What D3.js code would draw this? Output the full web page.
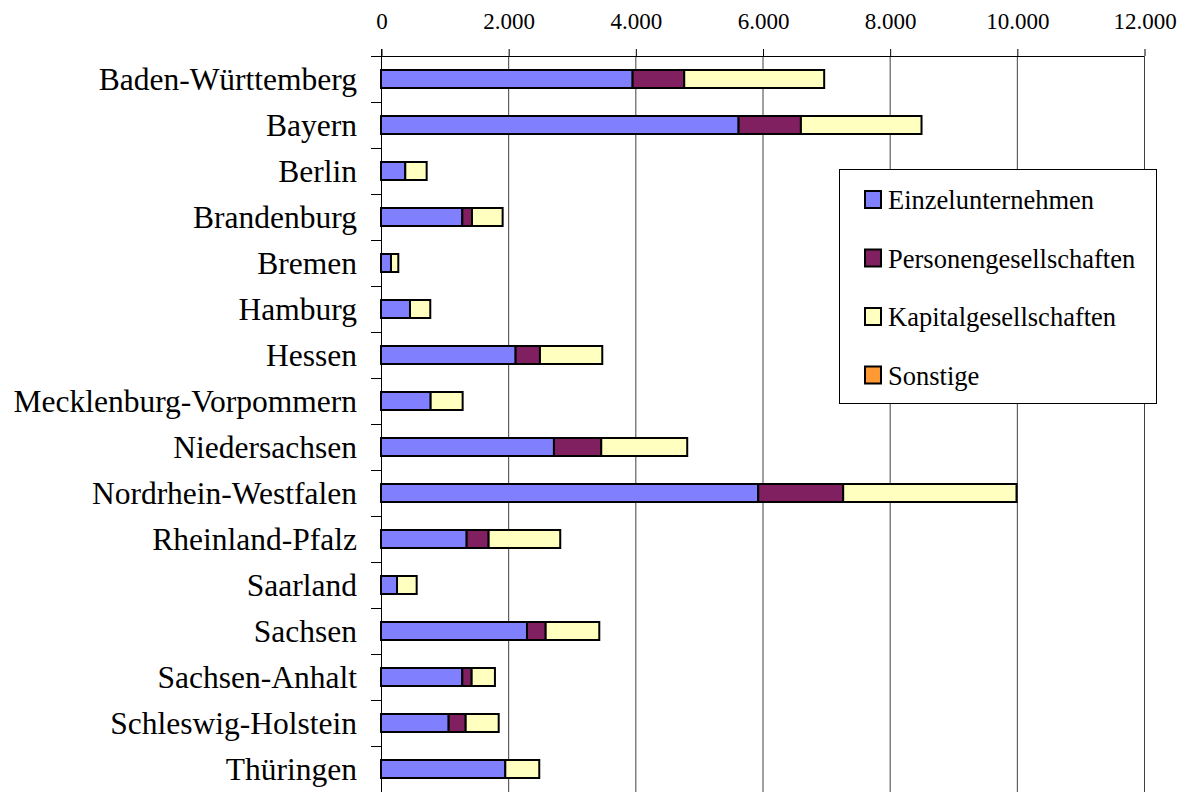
<!DOCTYPE html>
<html>
<head>
<meta charset="UTF-8">
<title>Unternehmen nach Rechtsform und Bundesland</title>
<script src="https://d3js.org/d3.v7.min.js"></script>
<style>
  body { margin: 0; background: #fff; }
  svg text { font-family: "Liberation Serif", "Times New Roman", serif; fill: #000; }
</style>
</head>
<body>
<svg width="1185" height="792"></svg>
<script>
// data
const laender = [
  "Baden-Württemberg", "Bayern", "Berlin", "Brandenburg", "Bremen", "Hamburg",
  "Hessen", "Mecklenburg-Vorpommern", "Niedersachsen", "Nordrhein-Westfalen",
  "Rheinland-Pfalz", "Saarland", "Sachsen", "Sachsen-Anhalt",
  "Schleswig-Holstein", "Thüringen"
];
const seriesNames = ["Einzelunternehmen", "Personengesellschaften", "Kapitalgesellschaften", "Sonstige"];
const einzel   = [3957, 5624, 382, 1279, 157, 456, 2117, 781, 2720, 5933, 1347, 252, 2296, 1279, 1064, 1955];
const personen = [812, 980, 0, 152, 0, 0, 383, 0, 744, 1336, 346, 0, 294, 147, 268, 0];
const kapital  = [2201, 1897, 336, 482, 115, 319, 980, 503, 1352, 2726, 1126, 309, 843, 366, 519, 534];
const sonstige = [0, 0, 0, 0, 0, 0, 0, 0, 0, 0, 0, 0, 0, 0, 0, 0];
const xTicks = [0, 2000, 4000, 6000, 8000, 10000, 12000];
const colors = ["#8080ff", "#802060", "#ffffc0", "#ff9933"];

const svg = d3.select("svg");
const plotLeft = 381, plotRight = 1144, plotTop = 56, plotBottom = 792;

const rows = laender.map((name, i) => ({
  name: name,
  Einzelunternehmen: einzel[i],
  Personengesellschaften: personen[i],
  Kapitalgesellschaften: kapital[i],
  Sonstige: sonstige[i]
}));

const x = d3.scaleLinear().domain([0, 12000]).range([plotLeft, plotRight]);
const y = d3.scaleBand().domain(laender).range([plotTop, plotBottom]).padding(0);
const barH = 18;

const fmt = d3.formatLocale({ decimal: ",", thousands: ".", grouping: [3], currency: ["", " €"] }).format(",d");

// vertical gridlines
svg.append("g")
  .selectAll("line")
  .data(xTicks.slice(1))
  .join("line")
  .attr("x1", d => x(d) + 0.5).attr("x2", d => x(d) + 0.5)
  .attr("y1", plotTop).attr("y2", plotBottom)
  .attr("stroke", "#404040")
  .attr("stroke-width", 1);

// top axis
const xAxis = svg.append("g")
  .attr("transform", `translate(0.5,${plotTop})`)
  .call(d3.axisTop(x).tickValues(xTicks).tickFormat(fmt).tickSize(7).tickPadding(20));
xAxis.select(".domain").remove();
xAxis.selectAll(".tick line").attr("stroke", "#000");
xAxis.selectAll(".tick text")
  .style("font-size", "23px")
  .attr("fill", "#000");

svg.append("line")
  .attr("x1", plotLeft - 10).attr("x2", plotRight)
  .attr("y1", plotTop + 0.5).attr("y2", plotTop + 0.5)
  .attr("stroke", "#000");

// left axis with ticks between categories
svg.append("line")
  .attr("x1", plotLeft + 0.5).attr("x2", plotLeft + 0.5)
  .attr("y1", plotTop - 7).attr("y2", plotBottom)
  .attr("stroke", "#000");
svg.append("g")
  .selectAll("line")
  .data(laender.slice(1))
  .join("line")
  .attr("x1", plotLeft - 10).attr("x2", plotLeft)
  .attr("y1", d => y(d) + 0.5).attr("y2", d => y(d) + 0.5)
  .attr("stroke", "#000");

svg.append("g")
  .selectAll("text")
  .data(laender)
  .join("text")
  .attr("x", 357)
  .attr("y", d => y(d) + y.bandwidth() / 2)
  .attr("dy", "0.35em")
  .attr("text-anchor", "end")
  .style("font-size", "31.5px")
  .text(d => d);

// stacked bars
const stack = d3.stack().keys(seriesNames);
const layers = stack(rows);

svg.append("g")
  .selectAll("g")
  .data(layers)
  .join("g")
  .attr("fill", (d, i) => colors[i])
  .selectAll("rect")
  .data(d => d.filter(s => s[1] - s[0] > 0))
  .join("rect")
  .attr("x", d => x(d[0]))
  .attr("width", d => x(d[1]) - x(d[0]))
  .attr("y", d => y(d.data.name) + (y.bandwidth() - barH) / 2)
  .attr("height", barH)
  .attr("stroke", "#000")
  .attr("stroke-width", 2);

// legend
const legend = svg.append("g");
legend.append("rect")
  .attr("x", 839.5).attr("y", 169.5)
  .attr("width", 317).attr("height", 234)
  .attr("fill", "#fff")
  .attr("stroke", "#000");

const items = legend.selectAll("g.item")
  .data(seriesNames)
  .join("g")
  .attr("class", "item")
  .attr("transform", (d, i) => `translate(0,${200 + i * 58.5})`);
items.append("rect")
  .attr("x", 865).attr("y", -9)
  .attr("width", 16).attr("height", 17)
  .attr("fill", (d, i) => colors[i])
  .attr("stroke", "#000")
  .attr("stroke-width", 2);
items.append("text")
  .attr("x", 888)
  .attr("dy", "0.35em")
  .style("font-size", "26.5px")
  .text(d => d);
</script>
</body>
</html>
